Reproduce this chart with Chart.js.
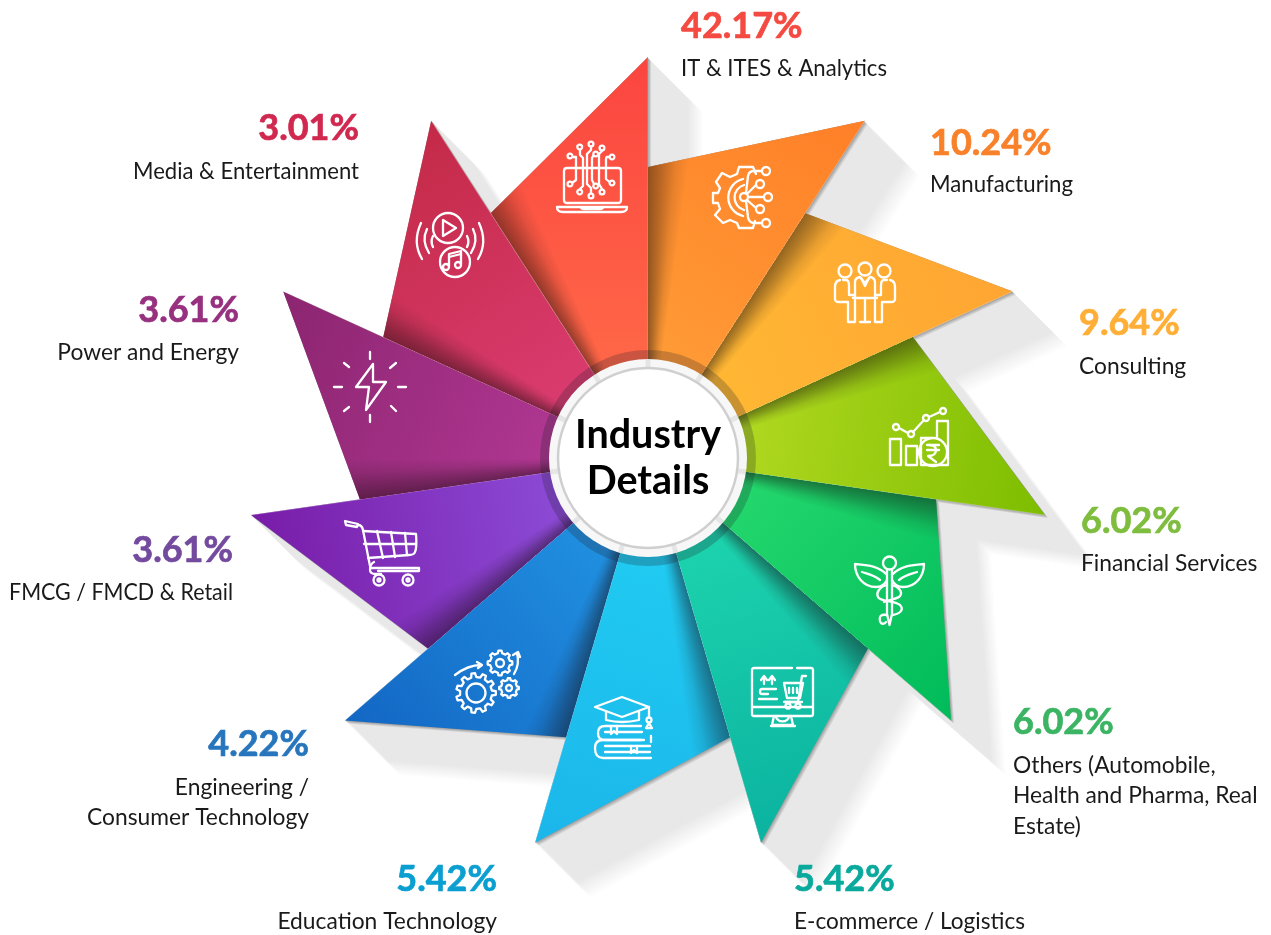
<!DOCTYPE html>
<html>
<head>
<meta charset="utf-8">
<title>Industry Details</title>
<script src="https://cdn.jsdelivr.net/npm/chart.js@4"></script>
<style>
    html, body { margin: 0; padding: 0; background: #fff; }
    #wrap { position: relative; width: 1271px; height: 935px; }
</style>
</head>
<body>
<div id="wrap"><canvas id="industryChart" width="1271" height="935"></canvas></div>
<script>
const categories = [
    'IT & ITES & Analytics', 'Manufacturing', 'Consulting', 'Financial Services',
    'Others (Automobile, Health and Pharma, Real Estate)', 'E-commerce / Logistics',
    'Education Technology', 'Engineering / Consumer Technology',
    'FMCG / FMCD & Retail', 'Power and Energy', 'Media & Entertainment'
];
const shares = [42.17, 10.24, 9.64, 6.02, 6.02, 5.42, 5.42, 4.22, 3.61, 3.61, 3.01];

// how the long labels break in the picture
const labelLines = [
    ['IT & ITES & Analytics'], ['Manufacturing'], ['Consulting'], ['Financial Services'],
    ['Others (Automobile,', 'Health and Pharma, Real', 'Estate)'], ['E-commerce / Logistics'],
    ['Education Technology'], ['Engineering /', 'Consumer Technology'],
    ['FMCG / FMCD & Retail'], ['Power and Energy'], ['Media & Entertainment']
];

const tipColors = ['#fb4540', '#ff7f28', '#ffa533', '#7dbd00', '#00bb5a', '#0bb3a0', '#1bb6ea', '#1367c4', '#781ca8', '#8c2570', '#c42a47'];
const baseColors = ['#ff6647', '#ff9a35', '#ffb733', '#aed71f', '#22d66c', '#1cd2ad', '#20caf1', '#208edf', '#8b49d4', '#ae3690', '#d93b6e'];
const percentColors = ['#f44a41', '#f9812a', '#ffaf37', '#7fbd3f', '#3bb463', '#0aa99d', '#0a9fd0', '#2776bd', '#734a9e', '#96307f', '#d0284f'];

// text anchors: x, baseline of the percentage, baselines of the label lines, alignment, widest label
const labelAnchors = [
    { x: 681, y: 38, lines: [76], align: 'left', fit: 206 },
    { x: 930, y: 155, lines: [192], align: 'left', fit: 143 },
    { x: 1079, y: 335, lines: [374], align: 'left', fit: 108 },
    { x: 1081, y: 533, lines: [571], align: 'left', fit: 180 },
    { x: 1013, y: 734, lines: [773, 803, 834], align: 'left', fit: 247 },
    { x: 794, y: 891, lines: [929], align: 'left', fit: 231 },
    { x: 497, y: 891, lines: [929], align: 'right', fit: 221 },
    { x: 309, y: 756, lines: [795, 825], align: 'right', fit: 225 },
    { x: 233, y: 562, lines: [600], align: 'right', fit: 224 },
    { x: 239, y: 322, lines: [360], align: 'right', fit: 184 },
    { x: 359, y: 140, lines: [179], align: 'right', fit: 226 }
];

const SHOULDER = 291 / 401;   // radius of the blunt corner against the tip
const FONT = 'Lato, "Open Sans", sans-serif';

function wedgePoints(arc, dx, dy) {
    const at = (angle, r) => [arc.x + dx + Math.cos(angle) * r, arc.y + dy + Math.sin(angle) * r];
    return [
        at(arc.startAngle, arc.innerRadius),
        at(arc.startAngle, arc.outerRadius * SHOULDER),
        at(arc.endAngle, arc.outerRadius),
        at(arc.endAngle, arc.innerRadius)
    ];
}

function tracePolygon(ctx, pts) {
    ctx.beginPath();
    pts.forEach((p, i) => i ? ctx.lineTo(p[0], p[1]) : ctx.moveTo(p[0], p[1]));
    ctx.closePath();
}

// a slice that is drawn as a pinwheel blade instead of a ring segment
class PinwheelArc extends Chart.ArcElement {
    static id = 'pinwheelArc';

    draw(ctx) {
        const pts = wedgePoints(this, 0, 0);
        const tip = pts[2];
        ctx.save();
        const fill = ctx.createLinearGradient(tip[0], tip[1], this.x, this.y);
        fill.addColorStop(0, this.options.borderColor);
        fill.addColorStop(0.75, this.options.backgroundColor);
        fill.addColorStop(1, this.options.backgroundColor);
        tracePolygon(ctx, pts);
        ctx.fillStyle = fill;
        ctx.fill();
        ctx.clip();

        // shadow that the neighbouring blade throws on this one
        const shade = ctx.createConicGradient(this.startAngle, this.x, this.y);
        shade.addColorStop(0, 'rgba(20,10,10,0.46)');
        shade.addColorStop(0.007, 'rgba(20,10,10,0.3)');
        shade.addColorStop(0.015, 'rgba(20,10,10,0.1)');
        shade.addColorStop(0.022, 'rgba(20,10,10,0)');
        shade.addColorStop(1, 'rgba(20,10,10,0)');
        ctx.fillStyle = shade;
        ctx.fillRect(this.x - this.outerRadius, this.y - this.outerRadius, this.outerRadius * 2, this.outerRadius * 2);
        ctx.restore();

        ctx.save();
        ctx.strokeStyle = 'rgba(255,255,255,0.35)';
        ctx.lineWidth = 0.7;
        ctx.beginPath();
        ctx.moveTo(tip[0], tip[1]);
        ctx.lineTo(pts[3][0], pts[3][1]);
        ctx.stroke();
        ctx.restore();
    }
}

// same as a doughnut, but every blade gets the same angle whatever its value
class PinwheelController extends Chart.DoughnutController {
    static id = 'pinwheel';
    static defaults = { dataElementType: 'pinwheelArc' };

    calculateCircumference() {
        return (2 * Math.PI) / this.chart.data.labels.length;
    }
}

Chart.register(PinwheelArc, PinwheelController);

const longShadow = {
    id: 'longShadow',
    beforeDatasetsDraw(chart) {
        const ctx = chart.ctx;
        const arcs = chart.getDatasetMeta(0).data;
        ctx.save();
        for (let k = 56; k >= 0; k--) {
            let v = 232;
            if (k > 40) v = 232 + (255 - 232) * (k - 40) / 16;
            if (k < 4) v = 232 - (4 - k) * 22;
            v = Math.round(v);
            ctx.fillStyle = `rgb(${v},${v},${v})`;
            arcs.forEach(arc => {
                tracePolygon(ctx, wedgePoints(arc, k, k));
                ctx.fill();
            });
        }
        ctx.restore();
    }
};

const centreDisc = {
    id: 'centreDisc',
    afterDatasetsDraw(chart) {
        const ctx = chart.ctx;
        const arcs = chart.getDatasetMeta(0).data;
        const cx = arcs[0].x, cy = arcs[0].y;
        ctx.save();
        ctx.beginPath();
        ctx.arc(cx, cy, 108, 0, Math.PI * 2);
        ctx.fillStyle = 'rgba(30,30,40,0.24)';
        ctx.fill();
        ctx.beginPath();
        ctx.arc(cx, cy, 99, 0, Math.PI * 2);
        ctx.fillStyle = '#f7f7f7';
        ctx.fill();
        // small grey notches where the blades meet the ring
        arcs.forEach(arc => {
            const c = Math.cos(arc.endAngle), s = Math.sin(arc.endAngle);
            ctx.beginPath();
            ctx.moveTo(cx + c * 90, cy + s * 90);
            ctx.lineTo(cx + c * 99, cy + s * 99);
            ctx.strokeStyle = 'rgba(0,0,0,0.07)';
            ctx.lineWidth = 5;
            ctx.stroke();
        });
        ctx.beginPath();
        ctx.arc(cx, cy, 90, 0, Math.PI * 2);
        ctx.fillStyle = '#fff';
        ctx.fill();
        ctx.strokeStyle = '#cfcfcf';
        ctx.lineWidth = 2.5;
        ctx.stroke();
        ctx.fillStyle = '#000';
        ctx.textAlign = 'center';
        ctx.font = 'bold 39.5px ' + FONT;
        ctx.fillText('Industry', cx, cy - 10);
        ctx.fillText('Details', cx, cy + 36);
        ctx.restore();
    }
};

const sideLabels = {
    id: 'sideLabels',
    afterDraw(chart) {
        const ctx = chart.ctx;
        ctx.save();
        labelAnchors.forEach((a, i) => {
            ctx.textAlign = a.align;
            ctx.font = 'bold 36px ' + FONT;
            ctx.fillStyle = percentColors[i];
            ctx.strokeStyle = percentColors[i];
            ctx.lineWidth = 0.7;
            ctx.fillText(shares[i].toFixed(2) + '%', a.x, a.y);
            ctx.strokeText(shares[i].toFixed(2) + '%', a.x, a.y);
            ctx.font = '22.8px ' + FONT;
            ctx.fillStyle = '#1a1a1a';
            labelLines[i].forEach((line, j) => ctx.fillText(line, a.x, a.lines[j], a.fit));
        });
        ctx.restore();
    }
};

// --- white line icons, each one in its own small box ---
function ring(x, y, r) {
    return `M${x + r} ${y}a${r} ${r} 0 1 0 ${-2 * r} 0a${r} ${r} 0 1 0 ${2 * r} 0`;
}

function gear(x, y, r, teeth) {
    let d = '';
    const step = Math.PI * 2 / teeth;
    const outer = r + r * 0.24;
    for (let i = 0; i < teeth; i++) {
        const a = i * step;
        const pt = (ang, rad) => `${(x + Math.cos(ang) * rad).toFixed(1)} ${(y + Math.sin(ang) * rad).toFixed(1)}`;
        d += (i ? 'L' : 'M') + pt(a - step * 0.28, r) + 'L' + pt(a - step * 0.16, outer) + 'L' + pt(a + step * 0.16, outer) + 'L' + pt(a + step * 0.28, r);
    }
    return d + 'Z';
}

const iconPaths = [
    // laptop and circuit lines
    { x: 557, y: 142, d: [
        'M10 26H61Q64 26 64 29V58Q64 61 61 61H10Q7 61 7 58V29Q7 26 10 26Z', 'M0 65H70Q70 70 64 70H6Q0 70 0 65Z', 'M24 65Q24 67 27 67H43Q46 67 46 65',
        ring(22.7, 5, 2.4), ring(34, 2, 2.4), ring(45, 6, 2.4), ring(38.7, 12, 2.4), ring(13, 14, 2.4), ring(55, 15, 2.4),
        ring(13, 42, 2.4), ring(22.7, 50, 2.4), ring(34, 54, 2.4), ring(38.7, 44, 2.4), ring(45, 50, 2.4), ring(55, 41, 2.4),
        'M16 15H19V38L15 41', 'M23 8V13L26 16V44L23 47', 'M34 5V8L30 12V42L34 46V51', 'M36 14L35 16V38L37 42', 'M45 9L42 12V42L45 47', 'M52.500 15H50Q49 15 49 18V37L52.500 40'
    ] },
    // gear with branching nodes
    { x: 712, y: 164, d: [
        'M44 10L41 3H27L25 10L18 13L10 9L4 18L8 24L6 29H1V39H6L8 45L3 51L11 59L18 56L25 59L27 64H41L43 57',
        'M31 15A19 19 0 0 0 31 52', 'M32 21A13 13 0 0 0 32 46',
        ring(32, 33, 4), ring(54, 7, 4), ring(48, 20, 4), ring(56, 33, 4), ring(48, 45, 4), ring(54, 59, 4),
        'M36 33H52', 'M34 29L36 12Q37 7 42 7H50', 'M35 30L44 21', 'M35 36L44 44', 'M34 37L36 53Q37 59 42 59H50'
    ] },
    // three people at a table
    { x: 834, y: 262, d: [
        ring(11, 9, 6.5), ring(31, 7, 6.5), ring(50, 9, 6.5),
        'M6 18Q1 19 1 25V37Q1 40 5 40H14V60H21V39', 'M9 18H12Q15 18 15 24V33H21',
        'M56 18Q61 19 61 25V37Q61 40 57 40H48V60H41V39', 'M53 18H50Q47 18 47 24V33H41',
        'M21 37V20Q21 16 26 15L31 21L36 15Q41 16 41 20V37', 'M19 36H43', 'M31 37V60', 'M26 60H36', 'M27 16L31 24L35 16'
    ] },
    // bars, rupee coin and trend line
    { x: 889, y: 407, d: [
        'M1 32H12V58H1Z', 'M17 39H28V58H17Z', 'M32 31V58H59V14H48V30', 'M32 31H43',
        ring(44, 45, 14), 'M38 38H50', 'M38 43H50', 'M40 38Q47 38 47 43Q47 49 39 49L47 55',
        ring(7, 20, 3), ring(22, 27, 3), ring(37, 11, 3), ring(54, 4, 3),
        'M10 21L19 26', 'M24 25L35 13', 'M40 10L51 5'
    ] },
    // caduceus
    { x: 854, y: 556, d: [
        ring(35.500, 7, 6.5), 'M33 14V58L35.500 69L38 58V14',
        'M32 18C24 9 10 9 1 8C1 20 9 31 22 31C27 31 31 28 33 24', 'M39 18C47 9 61 9 70 8C70 20 62 31 49 31C44 31 40 28 38 24',
        'M8 16C14 18 20 19 26 24', 'M63 16C57 18 51 19 45 24',
        'M33 29C25 31 22 37 24 41C26 46 40 44 46 49C50 53 47 58 38 59', 'M38 29C45 31 49 36 46 40C44 43 36 43 30 46',
        'M33 59C27 58 25 60 26 65C27 69 31 68 32 66'
    ] },
    // monitor with cart
    { x: 752, y: 667, d: [
        'M40 1H2Q0 1 0 3V47Q0 49 2 49H59Q61 49 61 47V3Q61 1 59 1H45', 'M0 40H61', 'M22 49L20 58H41L39 49', 'M19 59H43', 'M24 49A6 5 0 0 0 37 49',
        'M12 11V17', 'M9 13L12 9L15 13', 'M20 11V17', 'M17 13L20 9L23 13',
        'M24 22H10Q8 22 8 25Q8 27 10 27H16', 'M7 32H25',
        'M32 16H51L48 31H35Z', 'M54 9H50L46 35H33', 'M37 21V26', 'M41 21V26', 'M45 21V26', 'M32 35H50', ring(36, 39, 2.5), ring(46, 39, 2.5)
    ] },
    // books and graduation cap
    { x: 594, y: 696, d: [
        'M1 11L28 1L55 11L28 21Z', 'M12 16V24Q28 28 45 24V16', 'M55 11V22', ring(55, 24, 2.5), 'M52 32L55 27L58 32Z',
        'M47 30H11Q4 30 4 37Q4 44 11 44H50', 'M11 36H48', 'M47 44H9Q1 44 1 52Q1 62 9 62H57', 'M57 46V40', 'M11 50H56', 'M11 56H56',
        'M17 30V38L20 35L23 38V30', 'M37 50V57L40 54L43 57V50'
    ] },
    // three gears and arrows
    { x: 454, y: 650, d: [
        gear(22, 43, 16, 11), ring(22, 43, 9.5), gear(46, 13, 10, 8), ring(46, 13, 4), gear(55, 38, 8, 8), ring(55, 38, 3),
        'M1 25Q14 15 27 15', 'M23 12L28 15L24 18', 'M60 24Q66 14 63 3', 'M59 5L64 2L66 7'
    ] },
    // shopping cart
    { x: 344, y: 520, d: [
        'M1 1L14 4L13 7L2 5Z', 'M14 5Q18 5 19 10L26 46', 'M19 11L72 14Q73 28 71 32Q70 35 65 35L24 38',
        'M33 11L39 38', 'M47 12L51 37', 'M61 13L63 35', 'M20 24H72', 'M26 48H75V51H34', 'M30 42Q26 44 26 50Q26 54 32 54H37',
        ring(35, 60, 5.500), ring(35, 60, 1.500), ring(64, 60, 5.500), ring(64, 60, 1.500)
    ] },
    // lightning bolt
    { x: 333, y: 351, d: [
        'M40 13L23 36H36L33 59L53 31H40Z', 'M37 1V8', 'M37 64V71', 'M1 36H9', 'M65 36H73', 'M11 12L16 16', 'M63 12L57 17', 'M11 60L16 56', 'M63 60L58 55'
    ] },
    // play and music circles with waves
    { x: 415, y: 212, d: [
        ring(33, 16, 15), 'M28 8V24L41 16Z', ring(40, 50, 15), 'M34 54V42L46 39V52', 'M34 45L46 42', ring(31, 55, 3), ring(43, 53, 3),
        'M6 11C0 24 1 37 7 47', 'M12 17C8 25 9 33 14 41', 'M18 24C16 28 16 31 18 35',
        'M64 11C70 24 69 37 63 47', 'M58 17C62 25 61 33 56 41', 'M52 24C54 28 54 31 52 35'
    ] }
];

const lineIcons = {
    id: 'lineIcons',
    afterDatasetsDraw(chart) {
        const ctx = chart.ctx;
        ctx.save();
        ctx.strokeStyle = '#fff';
        ctx.lineWidth = 2.3;
        ctx.lineCap = 'round';
        ctx.lineJoin = 'round';
        iconPaths.forEach(icon => {
            ctx.save();
            ctx.translate(icon.x, icon.y);
            icon.d.forEach(d => ctx.stroke(new Path2D(d)));
            ctx.restore();
        });
        ctx.restore();
    }
};

new Chart(document.getElementById('industryChart'), {
    type: 'pinwheel',
    data: {
        labels: categories,
        datasets: [{
            data: shares,
            backgroundColor: baseColors,
            borderColor: tipColors,
            borderWidth: 0
        }]
    },
    options: {
        responsive: false,
        animation: false,
        cutout: 85,
        rotation: -360 / categories.length,
        layout: { padding: { left: 247, right: 222, top: 57, bottom: 76 } },
        plugins: { legend: { display: false }, tooltip: { enabled: false } }
    },
    plugins: [longShadow, lineIcons, centreDisc, sideLabels]
});
</script>
</body>
</html>
